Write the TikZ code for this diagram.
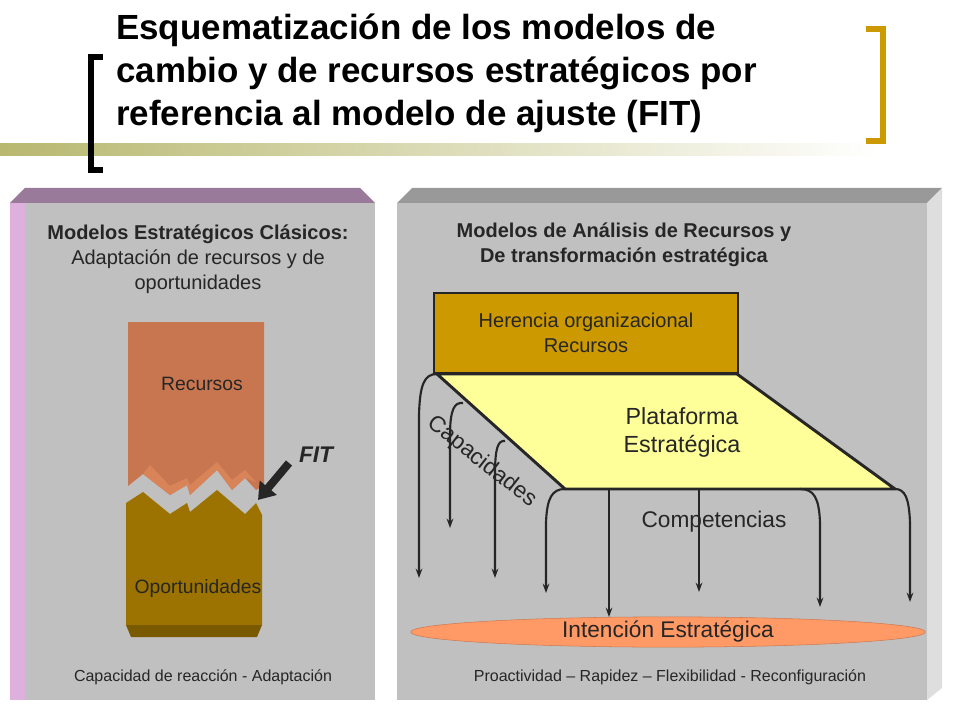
\documentclass[tikz,border=0pt]{standalone}
\usepackage{fontspec}
\setmainfont{Liberation Sans}
\usetikzlibrary{shapes.geometric,arrows.meta}
\definecolor{panel}{HTML}{C0C0C0}
\definecolor{purp}{HTML}{9A7A9A}
\definecolor{pink}{HTML}{DDB0DD}
\definecolor{rec}{HTML}{C87650}
\definecolor{recl}{HTML}{E08A5C}
\definecolor{opo}{HTML}{9C7200}
\definecolor{opod}{HTML}{7A5A00}
\definecolor{gold}{HTML}{CC9900}
\definecolor{pale}{HTML}{FFFF99}
\definecolor{coral}{HTML}{FF9966}
\definecolor{olive}{HTML}{B8B870}
\begin{document}
\begin{tikzpicture}[x=0.75pt,y=-0.75pt,
  txt/.style={font=\fontsize{15}{18.75}\selectfont,align=center,text=black!85},
  small/.style={font=\fontsize{12}{14}\selectfont,text=black!85},
  mid/.style={font=\fontsize{14.5}{17}\selectfont,text=black!85},
  arr/.style={-{Stealth[length=7pt,width=5pt]},line width=1.6pt,black!85},
  thick3/.style={line width=2.2pt,draw=black!85}]
\useasboundingbox[fill=white] (0,0) rectangle (960,720);
% gradient line
\shade[left color=olive,right color=white] (0,144) rectangle (880,156);
% brackets
\draw[line width=5pt,line cap=butt] (103,57) -- (91,57) -- (91,170) -- (103,170);
\draw[line width=5pt,gold] (866,29) -- (883,29) -- (883,141) -- (866,141);
\node[anchor=west,font=\bfseries\fontsize{26.2}{32.3}\selectfont,align=left,inner sep=0] (title) at (116,73)
 {Esquematización de los modelos de\\cambio y de recursos estratégicos por\\referencia al modelo de ajuste (FIT)};
% left panel
\fill[purp] (10,203) -- (25,188) -- (360,188) -- (375,203) -- cycle;
\fill[panel] (10,203) rectangle (375,700);
\fill[pink] (10,203) -- (25,203) -- (25,700) -- (10,700) -- cycle;
% right panel
\fill[black!40] (397,203) -- (412,188) -- (942,188) -- (927,203) -- cycle;
\fill[panel] (397,203) rectangle (927,700);
\fill[black!13] (927,203) -- (942,188) -- (942,688) -- (927,700) -- cycle;
% left texts
\node[txt] (lh) at (198,259) {\textbf{Modelos Estratégicos Clásicos:}\\Adaptación de recursos y de\\oportunidades};
\node[small] (lb) at (203,677) {Capacidad de reacción - Adaptación};
% blocks
\fill[rec] (128,322) -- (264,322) -- (264,485) -- (256,490) -- (245,478) -- (232,490) -- (217,470) -- (190,495) -- (187,485) -- (170,495) -- (143,474) -- (128,486) -- cycle;
\fill[recl,opacity=0.7] (143,474) -- (150,465) -- (170,486) -- (187,478) -- (190,485) -- (217,462) -- (232,480) -- (245,470) -- (256,482) -- (245,478) -- (232,490) -- (217,470) -- (190,495) -- (187,485) -- (170,495) -- cycle;
\fill[opo] (126,503) -- (143,492) -- (170,514) -- (187,503) -- (190,512) -- (217,490) -- (245,514) -- (256,503) -- (262,515) -- (262,625) -- (126,625) -- cycle;
\fill[opod] (126,625) -- (262,625) -- (257,637) -- (131,637) -- cycle;
\node[mid] (recn) at (202,384) {Recursos};
\node[mid] (opn) at (198,588) {Oportunidades};
\node[font=\bfseries\itshape\fontsize{17}{20}\selectfont,text=black!85] (fit) at (316,455) {FIT};
\coordinate (fs) at (289,463);
\coordinate (fe) at (258,500);
\draw[-{Triangle[length=12pt,width=16pt]},line width=6pt,black!85] (fs) -- (fe);
% right texts
\node[txt] (rh) at (624,245) {\textbf{Modelos de Análisis de Recursos y}\\\textbf{De transformación estratégica}};
\node[small] (rb) at (670,677) {Proactividad -- Rapidez -- Flexibilidad - Reconfiguración};
% herencia
\node[thick3,fill=gold,minimum width=228pt,minimum height=60pt,inner sep=0,font=\fontsize{15}{19}\selectfont,align=center,text=black!85] (her) at (586,333) {Herencia organizacional\\Recursos};
\coordinate (p1) at (437,374);
\coordinate (p2) at (737,374);
\coordinate (p3) at (895,489);
\coordinate (p4) at (565,489);
\filldraw[thick3,fill=pale,line join=round] (p1) -- (p2) -- (p3) -- (p4) -- cycle;
\node[font=\fontsize{17.5}{21}\selectfont,align=center,text=black!85] (plat) at (682,432) {Plataforma\\Estratégica};
\node[font=\fontsize{17}{20}\selectfont,text=black!85,rotate=-38] (cap) at (482,462) {Capacidades};
\node[font=\fontsize{17}{20}\selectfont,text=black!85] (comp) at (714,522) {Competencias};
\node[ellipse,fill=coral,draw=coral!80!black,minimum width=386pt,minimum height=22pt,inner sep=0,font=\fontsize{17}{20}\selectfont,text=black!85] (int) at (668,632) {Intención Estratégica};
% arrows
\coordinate (a1) at (419,578);
\coordinate (a2) at (450,528);
\coordinate (a3) at (495,578);
\coordinate (a4) at (546,593);
\coordinate (s5) at (609,489);
\coordinate (a5) at (609,617);
\coordinate (s6) at (699,489);
\coordinate (a6) at (699,592);
\coordinate (s7) at (800,489);
\coordinate (a7) at (820,607);
\coordinate (a8) at (910,602);
\coordinate (s2) at (463,403);
\coordinate (s3) at (505,441);
\draw[arr] (p1) .. controls (424,374) and (420,385) .. ([yshift=-30]a1|-p1) -- (a1);
\draw[arr] (s2) .. controls (454,402) and (450,410) .. ([yshift=-25]a2|-s2) -- (a2);
\draw[arr] (s3) .. controls (498,440) and (495,448) .. ([yshift=-25]a3|-s3) -- (a3);
\draw[arr] (p4) .. controls (552,489) and (547,498) .. ([yshift=-25]a4|-p4) -- (a4);
\draw[arr] (s5) -- (a5);
\draw[arr] (s6) -- (a6);
\draw[arr] (s7) .. controls (814,489) and (819,498) .. ([yshift=-25]a7|-s7) -- (a7);
\draw[arr] (p3) .. controls (905,489) and (909,498) .. ([yshift=-25]a8|-p3) -- (a8);
\end{tikzpicture}
\end{document}
